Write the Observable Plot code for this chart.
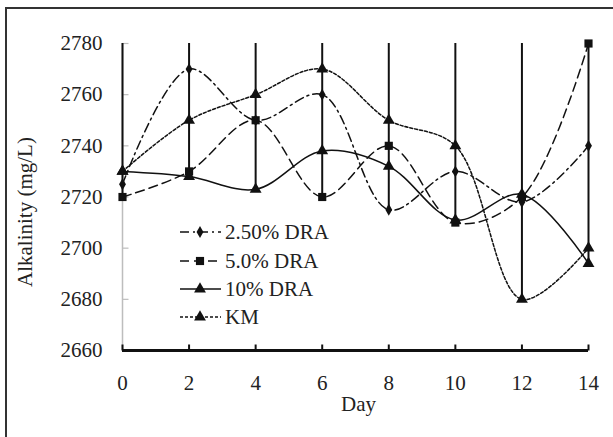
<!DOCTYPE html>
<html><head><meta charset="utf-8">
<script src="https://cdn.jsdelivr.net/npm/d3@7"></script>
<script src="https://cdn.jsdelivr.net/npm/@observablehq/plot@0.6"></script>
<style>
body{margin:0;background:#fff;}
#chart{position:relative;width:613px;height:437px;overflow:hidden;}
</style></head><body><div id="chart"></div>
<script>
// ---- data ----
const days = [0, 2, 4, 6, 8, 10, 12, 14];
const dra250 = [2725, 2770, 2750, 2760, 2715, 2730, 2718, 2740];
const dra50  = [2720, 2730, 2750, 2720, 2740, 2710, 2720, 2780];
const dra10  = [2730, 2728, 2723, 2738, 2732, 2711, 2721, 2694];
const km     = [2730, 2750, 2760, 2770, 2750, 2740, 2680, 2700];
const seriesNames = ["2.50% DRA", "5.0% DRA", "10% DRA", "KM"];
const yTicks = [2660, 2680, 2700, 2720, 2740, 2760, 2780];
const xLabel = "Day";
const yLabel = "Alkalinity (mg/L)";

// ---- styling ----
const xDomain = [0, 14];
const yDomain = [2660, 2780];
const ink = "#111";
const textInk = "#222";
const font = "'Liberation Serif', 'Times New Roman', serif";
const fs = 21;
const styles = [
  {values: dra250, dash: "9,4,2,4", symbol: "diamond", r: 3.6},
  {values: dra50,  dash: "9,5",     symbol: "square",  r: 4.6},
  {values: dra10,  dash: null,      symbol: "triangle", r: 4.4},
  {values: km,     dash: "3,2",     symbol: "triangle", r: 4.4}
];
const series = styles.map((s, k) => ({...s, name: seriesNames[k],
  data: days.map((d, i) => ({day: d, value: s.values[i]}))}));

const bars = days.map((d, i) => ({day: d, low: d3.min(series, s => s.values[i]), high: yDomain[1]}));

const upTick = {draw(ctx) { ctx.moveTo(0, 0); ctx.lineTo(0, -6); }};
const rightTick = {draw(ctx) { ctx.moveTo(0, 0); ctx.lineTo(6, 0); }};

const marks = [
  Plot.ruleX([xDomain[0]], {y1: yDomain[0], y2: yDomain[1], stroke: "#bdbdbd", strokeWidth: 1.5}),
  Plot.dot(yTicks, {x: () => xDomain[0], y: d => d, symbol: rightTick, stroke: "#bdbdbd", strokeWidth: 1.2}),
  Plot.ruleX(bars, {x: "day", y1: "low", y2: "high", stroke: ink, strokeWidth: 2}),
];
for (const s of series) {
  marks.push(Plot.line(s.data, {x: "day", y: "value", curve: "catmull-rom", stroke: ink,
    strokeWidth: 1.5, strokeDasharray: s.dash || undefined}));
}
for (const s of series) {
  marks.push(Plot.dot(s.data, {x: "day", y: "value", symbol: s.symbol, r: s.r, fill: ink}));
}
marks.push(
  Plot.ruleY([yDomain[0]], {x1: xDomain[0], x2: xDomain[1], stroke: ink, strokeWidth: 3}),
  Plot.dot(days, {x: d => d, y: () => yDomain[0], symbol: upTick, stroke: ink, strokeWidth: 2}),
  Plot.axisX({ticks: days, tickSize: 0, tickPadding: 25, fontSize: fs, label: null, tickFormat: d => String(d)}),
  Plot.axisY({ticks: yTicks, tickSize: 0, tickPadding: 20, fontSize: fs, label: null, tickFormat: d => String(d)}),
  Plot.text([xLabel], {frameAnchor: "bottom", dy: 60, dx: 3, text: d => d, fontSize: fs, fill: textInk}),
  Plot.text([yLabel], {frameAnchor: "left", textAnchor: "middle", lineAnchor: "middle", dx: -97, dy: 15,
    rotate: -90, text: d => d, fontSize: fs, fill: textInk})
);

const svg = Plot.plot({
  width: 613, height: 437,
  marginLeft: 122, marginRight: 25, marginTop: 43, marginBottom: 87,
  x: {domain: xDomain},
  y: {domain: yDomain},
  style: {fontFamily: font, fontSize: fs + "px", color: textInk, background: "#fff"},
  marks
});

// frame border and legend
const g = d3.select(svg);
g.insert("rect", ":first-child").attr("x", 6).attr("y", 8).attr("width", 640).attr("height", 460)
  .attr("fill", "none").attr("stroke", "#333").attr("stroke-width", 2);

const leg = g.append("g").attr("font-family", font).attr("font-size", fs).attr("fill", textInk)
  .attr("text-anchor", "start");
const rowY = [232, 261, 289, 317];
const symType = {diamond: d3.symbolDiamond, square: d3.symbolSquare, triangle: d3.symbolTriangle};
series.forEach((s, k) => {
  const row = leg.append("g").attr("transform", `translate(0,${rowY[k]})`);
  row.append("line").attr("x1", 180).attr("x2", 221).attr("y1", 0).attr("y2", 0)
    .attr("stroke", ink).attr("stroke-width", 1.5).attr("stroke-dasharray", s.dash || null);
  row.append("path").attr("transform", "translate(200,0)")
    .attr("d", d3.symbol(symType[s.symbol], Math.PI * s.r * s.r)()).attr("fill", ink);
  row.append("text").attr("x", 225).attr("y", 0).attr("dy", "0.35em").attr("text-anchor", "start").text(s.name);
});

document.getElementById("chart").appendChild(svg);
</script></body></html>
